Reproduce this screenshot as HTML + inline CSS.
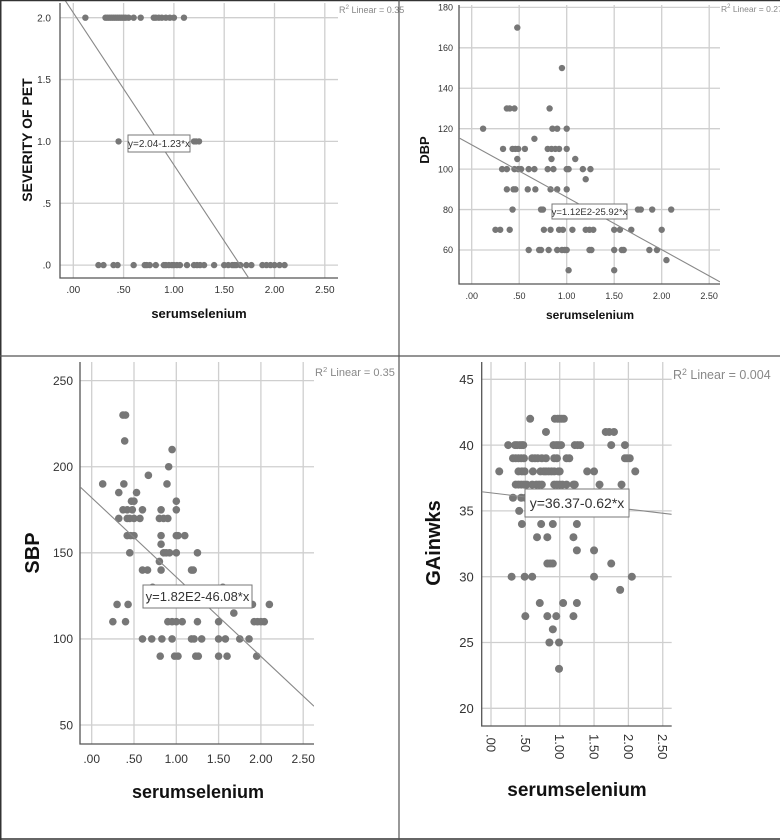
<!DOCTYPE html>
<html><head><meta charset="utf-8"><style>
html,body{margin:0;padding:0;background:#fff}
svg{display:block;font-family:"Liberation Sans",Arial,sans-serif}
</style></head><body>
<svg id="fig" width="780" height="840" viewBox="0 0 780 840" xmlns="http://www.w3.org/2000/svg">
<rect x="0" y="0" width="780" height="840" fill="#fff"/>
<g id="panels"></g>
<line x1="0" y1="0.5" x2="780" y2="0.5" stroke="#333" stroke-width="1.5"/>
<line x1="0.75" y1="0" x2="0.75" y2="840" stroke="#333" stroke-width="1.5"/>
<line x1="0" y1="839" x2="780" y2="839" stroke="#333" stroke-width="1.5"/>
<line x1="399" y1="0" x2="399" y2="840" stroke="#555" stroke-width="1.2"/>
<line x1="0" y1="356" x2="780" y2="356" stroke="#555" stroke-width="1.2"/>
</svg>
<script>
// ---- Panel 1: SEVERITY OF PET ----
const p1X=[0.12,0.32,0.34,0.36,0.38,0.40,0.42,0.44,0.46,0.48,0.50,0.52,0.55,0.60,0.67,0.80,0.82,0.85,0.88,0.92,0.96,1.00,1.10,
 0.45,1.20,1.22,1.25,
 0.25,0.30,0.40,0.44,0.60,0.71,0.73,0.76,0.82,0.90,0.92,0.95,0.98,1.00,1.03,1.06,1.13,1.20,1.23,1.26,1.30,1.40,1.50,1.54,1.58,1.60,1.62,1.66,1.72,1.77,1.88,1.92,1.96,2.00,2.05,2.10];
const p1Y=[2,2,2,2,2,2,2,2,2,2,2,2,2,2,2,2,2,2,2,2,2,2,2,
 1,1,1,1,
 0,0,0,0,0,0,0,0,0,0,0,0,0,0,0,0,0,0,0,0,0,0,0,0,0,0,0,0,0,0,0,0,0,0,0,0];
const p1YTicks=[0,0.5,1,1.5,2];
const p1YTickLabels=[".0",".5","1.0","1.5","2.0"];
const p1Fit=[2.04,-1.23];

// ---- Panel 2: DBP ----
const p2X=[0.48,0.95,0.37,0.40,0.45,0.82,0.12,0.85,0.90,1.00,0.66,0.33,0.43,0.46,0.49,0.56,0.80,0.84,0.88,0.92,1.00,0.48,0.84,1.09,
 0.32,0.37,0.45,0.49,0.52,0.60,0.66,0.80,0.86,1.00,1.02,1.17,1.25,1.20,0.37,0.44,0.46,0.59,0.67,0.83,0.90,1.00,
 0.43,0.73,0.75,1.75,1.78,1.90,2.10,0.25,0.30,0.40,0.76,0.83,0.92,0.96,1.06,1.20,1.24,1.28,1.50,1.56,1.68,2.00,
 0.60,0.71,0.73,0.81,0.90,0.95,0.98,1.00,1.24,1.26,1.50,1.58,1.60,1.87,1.95,2.05,1.02,1.50];
const p2Y=[170,150,130,130,130,130,120,120,120,120,115,110,110,110,110,110,110,110,110,110,110,105,105,105,
 100,100,100,100,100,100,100,100,100,100,100,100,100,95,90,90,90,90,90,90,90,90,
 80,80,80,80,80,80,80,70,70,70,70,70,70,70,70,70,70,70,70,70,70,70,
 60,60,60,60,60,60,60,60,60,60,60,60,60,60,60,55,50,50];
const p2YTicks=[60,80,100,120,140,160,180];
const p2YTickLabels=["60","80","100","120","140","160","180"];
const p2Fit=[112,-25.92];

// ---- Panel 3: SBP ----
const p3X=[0.37,0.40,0.39,0.95,0.91,0.67,0.13,0.38,0.89,0.32,0.53,0.47,0.50,1.00,
 0.37,0.42,0.48,0.60,0.82,1.00,0.32,0.42,0.45,0.50,0.57,0.80,0.85,0.90,
 0.42,0.46,0.50,0.82,1.00,1.02,1.10,0.82,0.45,0.85,0.88,0.92,1.00,1.25,0.80,
 0.60,0.66,0.82,1.18,1.20,0.72,1.55,0.30,0.43,1.90,2.10,1.68,
 0.25,0.40,0.90,0.95,1.00,1.07,1.25,1.50,1.92,1.96,2.00,2.04,
 0.60,0.71,0.83,0.95,1.18,1.21,1.30,1.50,1.58,1.75,1.86,
 0.81,0.98,1.02,1.23,1.26,1.50,1.60,1.95];
const p3Y=[230,230,215,210,200,195,190,190,190,185,185,180,180,180,
 175,175,175,175,175,175,170,170,170,170,170,170,170,170,
 160,160,160,160,160,160,160,155,150,150,150,150,150,150,145,
 140,140,140,140,140,130,130,120,120,120,120,115,
 110,110,110,110,110,110,110,110,110,110,110,110,
 100,100,100,100,100,100,100,100,100,100,100,
 90,90,90,90,90,90,90,90];
const p3YTicks=[50,100,150,200,250];
const p3YTickLabels=["50","100","150","200","250"];
const p3Fit=[182,-46.08];

// ---- Panel 4: GAinwks ----
const p4X=[0.57,0.93,0.97,1.00,1.03,1.06,0.80,1.67,1.72,1.79,
 0.25,0.35,0.38,0.42,0.45,0.47,0.91,0.95,0.98,1.02,1.22,1.26,1.30,1.75,1.95,
 0.32,0.36,0.40,0.44,0.48,0.60,0.64,0.68,0.74,0.80,0.92,0.96,1.10,1.14,1.95,1.98,2.02,
 0.12,0.40,0.45,0.49,0.61,0.72,0.77,0.80,0.84,0.88,0.92,0.98,1.00,1.40,1.50,2.10,
 0.36,0.40,0.44,0.48,0.52,0.60,0.66,0.70,0.74,0.92,0.96,1.00,1.04,1.10,1.20,1.22,1.58,1.90,
 0.32,0.44,0.50,0.41,0.45,0.73,0.90,1.25,0.67,0.82,1.20,1.25,1.50,
 0.82,0.86,0.90,1.75,0.30,0.49,0.60,1.50,2.05,1.88,0.71,1.05,1.25,
 0.50,0.82,0.95,1.20,0.90,0.85,0.99,0.99];
const p4Y=[42,42,42,42,42,42,41,41,41,41,
 40,40,40,40,40,40,40,40,40,40,40,40,40,40,40,
 39,39,39,39,39,39,39,39,39,39,39,39,39,39,39,39,39,
 38,38,38,38,38,38,38,38,38,38,38,38,38,38,38,38,
 37,37,37,37,37,37,37,37,37,37,37,37,37,37,37,37,37,37,
 36,36,36,35,34,34,34,34,33,33,33,32,32,
 31,31,31,31,30,30,30,30,30,29,28,28,28,
 27,27,27,27,26,25,25,23];
const p4YTicks=[20,25,30,35,40,45];
const p4YTickLabels=["20","25","30","35","40","45"];
const p4Fit=[36.37,-0.62];

const xTicks=[0,0.5,1,1.5,2,2.5];
const xTickLabels=[".00",".50","1.00","1.50","2.00","2.50"];

const NS="http://www.w3.org/2000/svg";
const root=document.getElementById('panels');
function mk(tag,attrs,parent){const e=document.createElementNS(NS,tag);for(const k in attrs)e.setAttribute(k,attrs[k]);(parent||root).appendChild(e);return e;}

function drawPanel(c,xs,ys,yTicks,yLabels,fit){
  const g=mk('g',{});
  
  
  const sx=v=>c.x0+v*c.xs;
  const sy=v=>c.yRef+(c.yRefV-v)*c.ys;
  // gridlines
  yTicks.forEach((t,i)=>{
    const l=mk('line',{x1:c.L,x2:c.R,y1:sy(t),y2:sy(t),stroke:'#cfcfcf','stroke-width':1.3},g);
    
    
    const tx=mk('text',{x:c.L-c.lblGap,y:sy(t)+c.tf*0.36,'text-anchor':'end','font-size':c.tf,fill:'#333'},g);
    
    
    tx.textContent=yLabels[i];
  });
  xTicks.forEach((t,i)=>{
    const l=mk('line',{x1:sx(t),x2:sx(t),y1:c.T,y2:c.B,stroke:'#cfcfcf','stroke-width':1.3},g);
    
    
    let tx;
    if(c.rotX){
      tx=mk('text',{x:0,y:0,'font-size':c.tf,fill:'#333','text-anchor':'start',transform:`translate(${sx(t)-c.tf*0.35},${c.B+8}) rotate(90)`},g);
    } else {
      tx=mk('text',{x:sx(t),y:c.B+c.xlblDy,'text-anchor':'middle','font-size':c.tf,fill:'#333'},g);
    }
    
    
    tx.textContent=xTickLabels[i];
  });
  // axes
  const ax=mk('path',{d:`M${c.L},${c.T} V${c.B} H${c.R}`,fill:'none',stroke:'#555','stroke-width':1.3},g);
  
  
  // points
  xs.forEach((v,i)=>{
    const p=mk('circle',{cx:sx(v),cy:sy(ys[i]),r:c.r,fill:'#777'},g);
    
    
  });
  // fit line clipped
  const cp=mk('clipPath',{id:c.id+'-clip'},g);
  mk('rect',{x:c.L,y:c.T-12,width:c.R-c.L,height:c.B-c.T+12},cp);
  const xa=(c.L-c.x0)/c.xs, xb=(c.R-c.x0)/c.xs;
  const fl=mk('line',{x1:sx(xa),y1:sy(fit[0]+fit[1]*xa),x2:sx(xb),y2:sy(fit[0]+fit[1]*xb),stroke:'#888','stroke-width':1.1,'clip-path':`url(#${c.id}-clip)`},g);
  
  
  // equation box
  const bx=mk('rect',{x:c.box[0],y:c.box[1],width:c.box[2],height:c.box[3],fill:'#fff',stroke:'#777','stroke-width':1},g);
  
  
  const et=mk('text',{x:c.box[0]+c.box[2]/2,y:c.box[1]+c.box[3]/2+c.ef*0.36,'text-anchor':'middle','font-size':c.ef,fill:'#333'},g);
  
  
  et.textContent=c.eq;
  // R2
  const r2=mk('text',{x:c.r2[0],y:c.r2[1],'font-size':c.rf,fill:'#888'},g);
  
  
  r2.innerHTML='R<tspan dy="-4" font-size="'+(c.rf*0.7)+'">2</tspan><tspan dy="4"> Linear = '+c.r2t+'</tspan>';
  // titles
  const xt=mk('text',{x:c.xt[0],y:c.xt[1],'text-anchor':'middle','font-size':c.tt,'font-weight':'bold',fill:'#111'},g);
  
  
  xt.textContent='serumselenium';
  const yt=mk('text',{x:0,y:0,'text-anchor':'middle','font-size':c.yt[2],'font-weight':'bold',fill:'#111',transform:`translate(${c.yt[0]},${c.yt[1]}) rotate(-90)`},g);
  
  
  yt.textContent=c.ytitle;
}

drawPanel({id:'severity',L:60,R:338,T:3,B:278,x0:73.3,xs:100.6,yRef:17.7,yRefV:2,ys:123.7,tf:10,lblGap:9,xlblDy:15,r:3.2,
  box:[128,135,62,17],ef:10,eq:'y=2.04-1.23*x',r2:[339,13],rf:9,r2t:'0.35',xt:[199,318,13],tt:13,yt:[32,140,14],ytitle:'SEVERITY OF PET'},
  p1X,p1Y,p1YTicks,p1YTickLabels,p1Fit);
drawPanel({id:'dbp',L:459,R:720,T:5,B:284,x0:471.7,xs:95,yRef:250,yRefV:60,ys:2.022,tf:9,lblGap:6,xlblDy:15,r:3.2,
  box:[552,204,75,15],ef:9.5,eq:'y=1.12E2-25.92*x',r2:[721,12],rf:8.5,r2t:'0.27',xt:[590,319,12],tt:12,yt:[429,150,13],ytitle:'DBP'},
  p2X,p2Y,p2YTicks,p2YTickLabels,p2Fit);
drawPanel({id:'sbp',L:80,R:314,T:362,B:744,x0:91.7,xs:84.6,yRef:725,yRefV:50,ys:1.7217,tf:12,lblGap:7,xlblDy:19,r:3.8,
  box:[143,585,109,23],ef:13,eq:'y=1.82E2-46.08*x',r2:[315,376],rf:11,r2t:'0.35',xt:[198,798,18],tt:18,yt:[39,553,20],ytitle:'SBP'},
  p3X,p3Y,p3YTicks,p3YTickLabels,p3Fit);
drawPanel({id:'ga',L:481.7,R:671.7,T:362,B:726,x0:491,xs:68.7,yRef:708.3,yRefV:20,ys:13.16,tf:13,lblGap:8,xlblDy:19,rotX:true,r:4,
  box:[525,489,104,28],ef:14,eq:'y=36.37-0.62*x',r2:[673,379],rf:12.5,r2t:'0.004',xt:[577,796,19],tt:19,yt:[440,543,20],ytitle:'GAinwks'},
  p4X,p4Y,p4YTicks,p4YTickLabels,p4Fit);
</script>
</body></html>
